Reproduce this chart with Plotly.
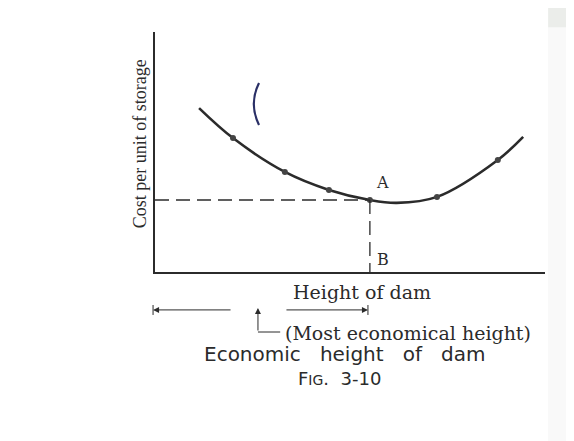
import plotly.graph_objects as go

# ---- data (arbitrary units) ----
curve_height = [1.13, 2.0, 3.33, 4.46, 5.51, 6.2, 7.23, 8.79, 9.44]
curve_cost = [6.83, 5.58, 4.17, 3.42, 3.0, 2.88, 3.13, 4.67, 5.63]
point_height = [2.0, 3.33, 4.46, 5.51, 7.23, 8.79]
point_cost = [5.58, 4.17, 3.42, 3.0, 3.13, 4.67]
optimum_height = 5.51
optimum_cost = 3.0

ink = "#2b2b2b"
serif = "DejaVu Serif"

fig = go.Figure()
fig.add_trace(go.Scatter(x=curve_height, y=curve_cost, mode="lines",
                         line=dict(color=ink, width=2.6, shape="spline", smoothing=1.0),
                         hoverinfo="skip", showlegend=False))
fig.add_trace(go.Scatter(x=point_height, y=point_cost, mode="markers",
                         marker=dict(color="#444", size=6), hoverinfo="skip", showlegend=False))
# dashed guides to A and B
fig.add_trace(go.Scatter(x=[0, optimum_height], y=[optimum_cost, optimum_cost], mode="lines",
                         line=dict(color=ink, width=1.3, dash="14px,7px"),
                         hoverinfo="skip", showlegend=False))
fig.add_trace(go.Scatter(x=[optimum_height, optimum_height], y=[optimum_cost, 0], mode="lines",
                         line=dict(color=ink, width=1.3, dash="14px,7px"),
                         hoverinfo="skip", showlegend=False))

def P(xd):
    """data x -> paper x"""
    return xd / 10.0

ann = []
ann.append(dict(x=optimum_height + 0.1, y=optimum_cost + 0.25, xref="x", yref="y", text="A",
                showarrow=False, xanchor="left", yanchor="bottom",
                font=dict(family=serif, size=16, color=ink)))
ann.append(dict(x=optimum_height + 0.12, y=0.05, xref="x", yref="y", text="B",
                showarrow=False, xanchor="left", yanchor="bottom",
                font=dict(family=serif, size=16, color=ink)))
# axis titles
ann.append(dict(x=-0.038, y=0.533, xref="paper", yref="paper", text="Cost per unit of storage",
                showarrow=False, textangle=-90, xanchor="center", yanchor="middle",
                font=dict(family="Liberation Serif", size=18, color=ink)))
ann.append(dict(x=P(5.31), y=-0.083, xref="paper", yref="paper", text="Height of dam",
                showarrow=False, xanchor="center", yanchor="middle",
                font=dict(family=serif, size=19, color=ink)))
# dimension arrows
ann.append(dict(x=P(-0.05), y=-0.158, xref="paper", yref="paper", ax=79, ay=0, text="",
                showarrow=True, arrowhead=2, arrowsize=1.2, arrowwidth=1, arrowcolor=ink))
ann.append(dict(x=P(5.46), y=-0.158, xref="paper", yref="paper", ax=-83, ay=0, text="",
                showarrow=True, arrowhead=2, arrowsize=1.2, arrowwidth=1, arrowcolor=ink))
ann.append(dict(x=P(2.64), y=-0.15, xref="paper", yref="paper", ax=0, ay=24, text="",
                showarrow=True, arrowhead=2, arrowsize=1.2, arrowwidth=1, arrowcolor=ink))
ann.append(dict(x=P(3.28), y=-0.254, xref="paper", yref="paper", text="(Most economical height)",
                showarrow=False, xanchor="left", yanchor="middle",
                font=dict(family=serif, size=19, color=ink)))
nb = "\u00a0"
ann.append(dict(x=P(4.87), y=-0.342, xref="paper", yref="paper",
                text=f"Economic{nb}{nb}{nb}height{nb}{nb}{nb}of{nb}{nb}{nb}dam",
                showarrow=False, xanchor="center", yanchor="middle",
                font=dict(family="DejaVu Sans", size=20, color=ink)))
ann.append(dict(x=P(4.72), y=-0.445, xref="paper", yref="paper",
                text=f"F<span style='font-size:14px'>IG</span>.{nb}{nb}3-10",
                showarrow=False, xanchor="center", yanchor="middle",
                font=dict(family="DejaVu Sans", size=18, color=ink)))

shapes = [
    # pen mark on the scan
    dict(type="path", xref="x", yref="y",
         path="M 2.667,7.875 Q 2.40,7.0 2.667,6.125",
         line=dict(color="#2a2f66", width=2.2)),
    dict(type="line", xref="paper", yref="paper", x0=P(-0.05), x1=P(-0.05), y0=-0.1375, y1=-0.179,
         line=dict(color=ink, width=1)),
    dict(type="line", xref="paper", yref="paper", x0=P(5.46), x1=P(5.46), y0=-0.1375, y1=-0.179,
         line=dict(color=ink, width=1)),
    dict(type="line", xref="paper", yref="paper", x0=P(2.64), x1=P(3.21), y0=-0.25, y1=-0.25,
         line=dict(color=ink, width=1)),
    # scan background: faint right strip and grey corner
    dict(type="rect", xref="paper", yref="paper", x0=1.008, x1=1.2, y0=-0.8, y1=1.2,
         fillcolor="#f9f9f9", line=dict(width=0), layer="below"),
    dict(type="rect", xref="paper", yref="paper", x0=1.008, x1=1.2, y0=1.02, y1=1.2,
         fillcolor="#ebedea", line=dict(width=0), layer="below"),
]

# the page adds an 8px body margin, so the figure is drawn 8px smaller
fig.update_layout(
    width=566, height=433,
    margin=dict(l=147, r=29, t=24, b=169),
    paper_bgcolor="white", plot_bgcolor="white",
    showlegend=False,
    annotations=ann, shapes=shapes,
    xaxis=dict(range=[0, 10], showgrid=False, zeroline=False, showticklabels=False,
               ticks="", showline=True, linecolor=ink, linewidth=1.6, fixedrange=True),
    yaxis=dict(range=[0, 10], showgrid=False, zeroline=False, showticklabels=False,
               ticks="", showline=True, linecolor=ink, linewidth=1.6, fixedrange=True),
)

fig.write_html("out.html")
